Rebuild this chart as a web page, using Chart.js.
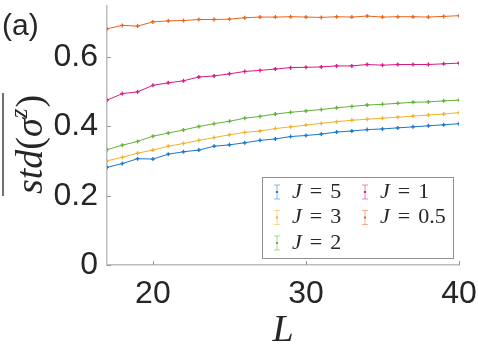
<!DOCTYPE html>
<html>
<head>
<meta charset="utf-8">
<script src="https://cdn.jsdelivr.net/npm/chart.js@4.4.0/dist/chart.umd.min.js"></script>
<style>
  html, body { margin: 0; padding: 0; background: #fff; }
  #wrap { width: 478px; height: 346px; position: relative; }
</style>
</head>
<body>
<div id="wrap"><canvas id="chart"></canvas></div>
<script>
const L = [17, 18, 19, 20, 21, 22, 23, 24, 25, 26, 27, 28, 29, 30, 31, 32, 33, 34, 35, 36, 37, 38, 39, 40];
const j5  = [0.282, 0.293, 0.307, 0.306, 0.320, 0.327, 0.332, 0.343, 0.347, 0.353, 0.360, 0.364, 0.371, 0.374, 0.378, 0.384, 0.387, 0.391, 0.393, 0.396, 0.399, 0.402, 0.405, 0.408];
const j3  = [0.301, 0.311, 0.323, 0.332, 0.343, 0.351, 0.360, 0.368, 0.376, 0.383, 0.387, 0.394, 0.399, 0.404, 0.409, 0.414, 0.418, 0.421, 0.424, 0.427, 0.430, 0.433, 0.436, 0.440];
const j2  = [0.333, 0.346, 0.357, 0.372, 0.381, 0.390, 0.400, 0.408, 0.415, 0.424, 0.429, 0.436, 0.441, 0.445, 0.449, 0.454, 0.458, 0.462, 0.464, 0.467, 0.470, 0.471, 0.474, 0.476];
const j1  = [0.476, 0.495, 0.500, 0.519, 0.526, 0.532, 0.543, 0.546, 0.552, 0.559, 0.562, 0.566, 0.570, 0.571, 0.572, 0.575, 0.575, 0.579, 0.577, 0.579, 0.579, 0.579, 0.581, 0.583];
const j05 = [0.682, 0.692, 0.690, 0.702, 0.705, 0.706, 0.709, 0.709, 0.710, 0.714, 0.716, 0.716, 0.717, 0.716, 0.715, 0.717, 0.716, 0.719, 0.716, 0.717, 0.717, 0.716, 0.718, 0.720];

const seriesNames = ["5", "3", "2", "1", "0.5"];
const seriesValues = [j5, j3, j2, j1, j05];
const colors = ["#1b77c8", "#f0b32a", "#62b23a", "#d81b84", "#e8661e"];
const xTicks = [20, 30, 40];
const yTicks = [0, 0.2, 0.4, 0.6];

const AXIS = "#bdbdbd";
const TEXT = "#262626";

/* ===== inward ticks, y label, (a), legend ===== */
const decor = {
  id: "decor",
  afterDraw(chart) {
    const ctx = chart.ctx;
    const a = chart.chartArea;
    const xs = chart.scales.x, ys = chart.scales.y;

    ctx.save();
    ctx.strokeStyle = "#9a9a9a";
    ctx.lineWidth = 1;
    xs.ticks.forEach(t => {
      const px = Math.round(xs.getPixelForValue(t.value)) + 0.5;
      ctx.beginPath(); ctx.moveTo(px, a.bottom); ctx.lineTo(px, a.bottom - 4); ctx.stroke();
    });
    ys.ticks.forEach(t => {
      const py = Math.round(ys.getPixelForValue(t.value)) + 0.5;
      ctx.beginPath(); ctx.moveTo(a.left, py); ctx.lineTo(a.left + 4, py); ctx.stroke();
    });

    // (a)
    ctx.fillStyle = TEXT;
    ctx.font = "30px 'Liberation Sans', Arial, sans-serif";
    ctx.textBaseline = "alphabetic";
    ctx.textAlign = "left";
    ctx.fillText("(a)", 2, 35);

    // y title: overline std(σ^z), rotated
    ctx.save();
    ctx.translate(42, 194);
    ctx.rotate(-Math.PI / 2);
    let x = 0;
    const it = "italic 38px 'Liberation Serif', serif";
    const up = "38px 'Liberation Serif', serif";
    const parts = [
      [it, "std", 0], [up, "(", 0], [it, "σ", 0],
      ["italic 25px 'Liberation Serif', serif", "z", -15], [up, ")", 0]
    ];
    parts.forEach(p => {
      ctx.font = p[0];
      ctx.fillText(p[1], x, p[2]);
      x += ctx.measureText(p[1]).width + (p[1] === "z" ? 1 : 0);
    });
    ctx.strokeStyle = TEXT;
    ctx.lineWidth = 1.3;
    ctx.beginPath(); ctx.moveTo(-2, -39); ctx.lineTo(x + 2, -39); ctx.stroke();
    ctx.restore();

    // legend
    const bx = a.right - 197, by = a.bottom - 88, bw = 191, bh = 81;
    ctx.fillStyle = "#fff";
    ctx.fillRect(bx, by, bw, bh);
    ctx.strokeStyle = "#8f8f8f";
    ctx.lineWidth = 1;
    ctx.strokeRect(bx + 0.5, by + 0.5, bw, bh);
    chart.data.datasets.forEach((ds, i) => {
      const col = Math.floor(i / 3), row = i % 3;
      const ix = bx + 15 + col * 88;
      const iy = by + 15 + row * 25.5;
      ctx.strokeStyle = ds.borderColor + "80";
      ctx.lineWidth = 1;
      ctx.beginPath();
      ctx.moveTo(ix, iy - 7); ctx.lineTo(ix, iy + 7);
      ctx.moveTo(ix - 3, iy - 7); ctx.lineTo(ix + 3, iy - 7);
      ctx.moveTo(ix - 3, iy + 7); ctx.lineTo(ix + 3, iy + 7);
      ctx.stroke();
      ctx.fillStyle = ds.borderColor;
      ctx.fillRect(ix - 1, iy - 1, 2, 2);
      ctx.fillStyle = TEXT;
      ctx.textBaseline = "middle";
      ctx.font = "italic 22px 'Liberation Serif', serif";
      const tx = ix + 15;
      ctx.fillText("J", tx, iy);
      const jw = ctx.measureText("J").width;
      ctx.font = "22px 'Liberation Serif', serif";
      ctx.fillText("=", tx + jw + 8, iy);
      const ew = ctx.measureText("=").width;
      ctx.fillText(seriesNames[i], tx + jw + 8 + ew + 8, iy);
    });
    ctx.restore();
  }
};

new Chart(document.getElementById("chart"), {
  type: "line",
  data: {
    datasets: seriesValues.map((vals, i) => ({
      label: "J = " + seriesNames[i],
      data: L.map((l, k) => ({ x: l, y: vals[k] })),
      borderColor: colors[i],
      backgroundColor: colors[i],
      borderWidth: 1,
      pointStyle: "cross",
      pointRadius: 2,
      pointBorderWidth: 1.3,
      tension: 0
    }))
  },
  options: {
    responsive: true,
    maintainAspectRatio: false,
    animation: false,
    layout: { padding: { left: 0, right: 19, top: 0, bottom: 0 } },
    plugins: { legend: { display: false }, tooltip: { enabled: false } },
    scales: {
      x: {
        type: "linear",
        min: 17, max: 40,
        afterBuildTicks: s => { s.ticks = xTicks.map(v => ({ value: v })); },
        afterFit: s => { s.height = 81; s.paddingLeft = 0; s.paddingRight = 0; },
        grid: { drawOnChartArea: false, drawTicks: false },
        border: { color: AXIS, width: 1.5 },
        ticks: { color: TEXT, padding: 10, maxRotation: 0,
                 font: { family: "'Liberation Sans', Arial, sans-serif", size: 32 } },
        title: { display: true, text: "L", color: TEXT, padding: 0,
                 font: { family: "'Liberation Serif', serif", style: "italic", size: 38, lineHeight: 0.8 } }
      },
      y: {
        min: 0, max: 0.75,
        afterBuildTicks: s => { s.ticks = yTicks.map(v => ({ value: v })); },
        afterFit: s => { s.width = 107; s.paddingTop = 0; s.paddingBottom = 0; },
        grid: { drawOnChartArea: false, drawTicks: false },
        border: { color: AXIS, width: 1.5 },
        ticks: { color: TEXT, padding: 9,
                 callback: v => String(v),
                 font: { family: "'Liberation Sans', Arial, sans-serif", size: 32 } }
      }
    }
  },
  plugins: [decor]
});
</script>
</body>
</html>
